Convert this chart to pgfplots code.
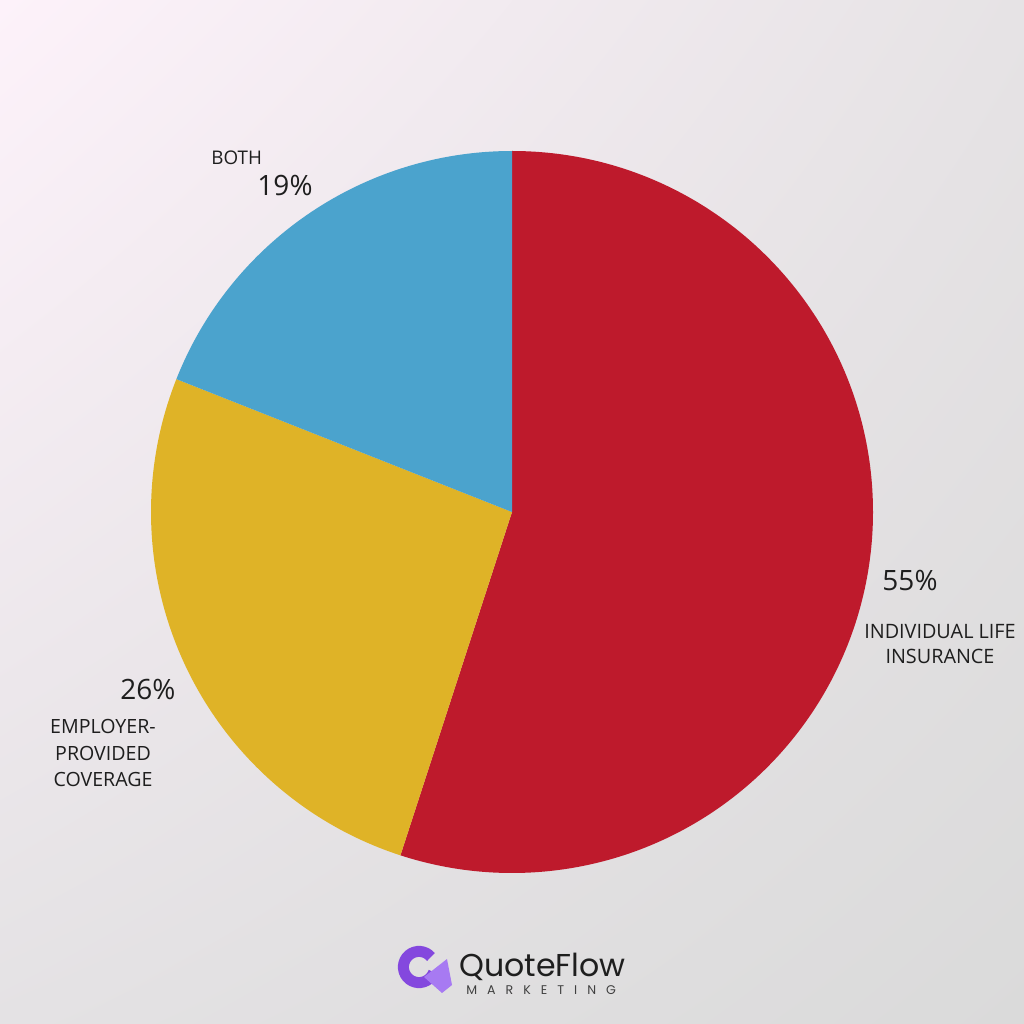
\documentclass[border=0pt]{standalone}
\usepackage{pgfplots}
\pgfplotsset{compat=1.18}
\usepackage{pgfplotstable}
\usepackage{fontspec}
\setmainfont{Open Sans}
\newfontfamily\logofont{Poppins}
\usetikzlibrary{shadings}
\definecolor{pieRed}{HTML}{BE1A2C}
\definecolor{pieYellow}{HTML}{DFB327}
\definecolor{pieBlue}{HTML}{4BA3CD}
\definecolor{bgTL}{HTML}{FDF2FA}
\definecolor{bgTR}{HTML}{E6E3E5}
\definecolor{bgBL}{HTML}{E4E2E4}
\definecolor{bgBR}{HTML}{DADADA}
\definecolor{txt}{HTML}{1E1E1E}
\definecolor{purpA}{HTML}{A77AF2}
\definecolor{purpB}{HTML}{8448DE}
% shares in percent
\pgfplotstableread{
share color
55 pieRed
26 pieYellow
19 pieBlue
}\pietable
\pgfplotstablegetelem{0}{share}\of\pietable \let\sA\pgfplotsretval
\pgfplotstablegetelem{1}{share}\of\pietable \let\sB\pgfplotsretval
\pgfplotstablegetelem{2}{share}\of\pietable \let\sC\pgfplotsretval
\pgfmathsetmacro\aA{90}
\pgfmathsetmacro\aB{90-3.6*\sA}
\pgfmathsetmacro\aC{\aB-3.6*\sB}
\pgfmathsetmacro\aD{\aC-3.6*\sC}
\def\R{180.5pt}
\begin{document}
\begin{tikzpicture}
\shade[upper left=bgTL, upper right=bgTR, lower left=bgBL, lower right=bgBR] (0,0) rectangle (512pt,512pt);
\begin{axis}[at={(0,0)}, anchor=south west, width=512pt, height=512pt, scale only axis,
  xmin=0, xmax=1024, ymin=0, ymax=1024, hide axis, clip=false]
\fill[pieRed] (axis cs:512,512) -- ([shift={(\aA:\R)}]axis cs:512,512) arc[start angle=\aA, end angle=\aB, radius=\R] -- cycle;
\fill[pieYellow] (axis cs:512,512) -- ([shift={(\aB:\R)}]axis cs:512,512) arc[start angle=\aB, end angle=\aC, radius=\R] -- cycle;
\fill[pieBlue] (axis cs:512,512) -- ([shift={(\aC:\R)}]axis cs:512,512) arc[start angle=\aC, end angle=\aD, radius=\R] -- cycle;
% labels
\node[anchor=west, text=txt, font=\fontsize{9.4}{12}\selectfont, inner sep=0] at (axis cs:211,866) {BOTH};
\node[text=txt, font=\fontsize{14}{17}\selectfont, inner sep=0] at (axis cs:285,838) {19\%};
\node[text=txt, font=\fontsize{14}{17}\selectfont, inner sep=0] at (axis cs:910,443) {55\%};
\node[text=txt, font=\fontsize{9.9}{12.6}\selectfont, align=center, inner sep=0] at (axis cs:940,380) {INDIVIDUAL LIFE\\INSURANCE};
\node[text=txt, font=\fontsize{9.8}{13.2}\selectfont, align=center, inner sep=0] at (axis cs:103,271) {EMPLOYER-\\PROVIDED\\COVERAGE};
\node[text=txt, font=\fontsize{14}{17}\selectfont, inner sep=0] at (axis cs:148,334) {26\%};
% logo
\draw[line width=5.5pt, purpB] ([shift={(40:7.8pt)}]axis cs:419,57) arc[start angle=40, end angle=340, radius=7.8pt];
\fill[purpA] (axis cs:424,47) -- (axis cs:447,65) -- (axis cs:452,39) -- (axis cs:442,31) -- cycle;
\node[anchor=west, text=txt, font=\logofont\fontsize{15.8}{18}\selectfont, inner sep=0] at (axis cs:459,57) {QuoteFlow};
\node[anchor=west, text=txt!85, font=\logofont\fontsize{6.3}{7}\selectfont, inner sep=0] at (axis cs:466,34) {M\hspace{5pt}A\hspace{5pt}R\hspace{5pt}K\hspace{5pt}E\hspace{5pt}T\hspace{5pt}I\hspace{5pt}N\hspace{5pt}G};
\end{axis}
\end{tikzpicture}
\end{document}
